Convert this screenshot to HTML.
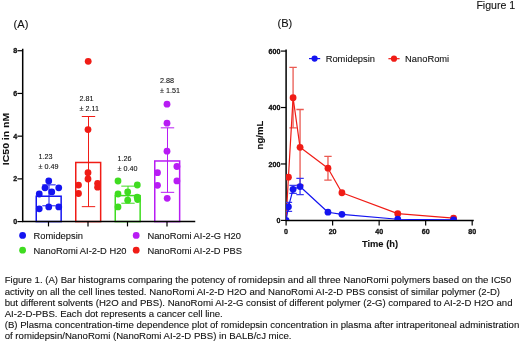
<!DOCTYPE html>
<html><head><meta charset="utf-8"><title>Figure 1</title>
<style>
html,body{margin:0;padding:0;background:#fff;}
body{width:520px;height:344px;overflow:hidden;font-family:"Liberation Sans",sans-serif;}
svg{display:block;will-change:transform;}
text{font-family:"Liberation Sans",sans-serif;fill:#111;stroke:#111;stroke-width:0.1px;}
.b{font-weight:bold;}
.tk{font-size:7.1px;stroke-width:0.3px;}
</style></head><body>
<svg width="520" height="344" viewBox="0 0 520 344">
<rect width="520" height="344" fill="#fff"/>

<text x="476.4" y="8.9" font-size="10.6">Figure 1</text>
<text x="13.6" y="27.5" font-size="11.1">(A)</text>
<text x="277.5" y="27.4" font-size="11.1">(B)</text>
<g id="chartA">
<rect x="36.25" y="196.23" width="24.9" height="25.37" fill="none" stroke="#1414f0" stroke-width="1.5"/>
<path d="M49 184.86V205.79M42.3 184.86H55.7M42.3 205.79H55.7" stroke="#1414f0" stroke-width="1" fill="none"/>
<rect x="75.75" y="162.48" width="24.9" height="59.12" fill="none" stroke="#f01c16" stroke-width="1.5"/>
<path d="M88.5 116.51V206.65M81.8 116.51H95.2M81.8 206.65H95.2" stroke="#f01c16" stroke-width="1" fill="none"/>
<rect x="115.25" y="195.59" width="24.9" height="26.01" fill="none" stroke="#3fdc20" stroke-width="1.5"/>
<path d="M128 186.14V203.23M121.3 186.14H134.7M121.3 203.23H134.7" stroke="#3fdc20" stroke-width="1" fill="none"/>
<rect x="154.75" y="160.98" width="24.9" height="60.62" fill="none" stroke="#b81cf4" stroke-width="1.5"/>
<path d="M167.5 127.83V192.34M160.8 127.83H174.2M160.8 192.34H174.2" stroke="#b81cf4" stroke-width="1" fill="none"/>
<circle cx="48.75" cy="181" r="3.4" fill="#1414f0"/>
<circle cx="45" cy="187.8" r="3.4" fill="#1414f0"/>
<circle cx="58.75" cy="187.8" r="3.4" fill="#1414f0"/>
<circle cx="51.75" cy="191.9" r="3.4" fill="#1414f0"/>
<circle cx="39.25" cy="194" r="3.4" fill="#1414f0"/>
<circle cx="39.25" cy="208.8" r="3.4" fill="#1414f0"/>
<circle cx="48.75" cy="206.9" r="3.4" fill="#1414f0"/>
<circle cx="58.75" cy="206.9" r="3.4" fill="#1414f0"/>
<circle cx="88.2" cy="61.3" r="3.4" fill="#f01c16"/>
<circle cx="88" cy="129.6" r="3.4" fill="#f01c16"/>
<circle cx="88" cy="172.7" r="3.4" fill="#f01c16"/>
<circle cx="88" cy="179" r="3.4" fill="#f01c16"/>
<circle cx="78.5" cy="185.1" r="3.4" fill="#f01c16"/>
<circle cx="97.6" cy="183.3" r="3.4" fill="#f01c16"/>
<circle cx="97.6" cy="187.2" r="3.4" fill="#f01c16"/>
<circle cx="78.5" cy="193.5" r="3.4" fill="#f01c16"/>
<circle cx="118" cy="181" r="3.4" fill="#3fdc20"/>
<circle cx="137.3" cy="185" r="3.4" fill="#3fdc20"/>
<circle cx="127.7" cy="191.9" r="3.4" fill="#3fdc20"/>
<circle cx="118" cy="194" r="3.4" fill="#3fdc20"/>
<circle cx="137.2" cy="197.2" r="3.4" fill="#3fdc20"/>
<circle cx="137.6" cy="199.6" r="3.4" fill="#3fdc20"/>
<circle cx="127.7" cy="200.2" r="3.4" fill="#3fdc20"/>
<circle cx="118" cy="206.9" r="3.4" fill="#3fdc20"/>
<circle cx="167" cy="104.2" r="3.4" fill="#b81cf4"/>
<circle cx="167" cy="123.2" r="3.4" fill="#b81cf4"/>
<circle cx="167" cy="151.2" r="3.4" fill="#b81cf4"/>
<circle cx="176.9" cy="166.5" r="3.4" fill="#b81cf4"/>
<circle cx="157.5" cy="172.7" r="3.4" fill="#b81cf4"/>
<circle cx="176.9" cy="180.9" r="3.4" fill="#b81cf4"/>
<circle cx="157.5" cy="185.3" r="3.4" fill="#b81cf4"/>
<circle cx="167.2" cy="198.3" r="3.4" fill="#b81cf4"/>
<path d="M22.7 49.6V221.6H194.5" stroke="#000" stroke-width="1.5" fill="none" stroke-linecap="square"/>
<path d="M17.4 221.60H22.7" stroke="#000" stroke-width="1.2"/>
<text class="b tk" x="17.1" y="224.20" text-anchor="end">0</text>
<path d="M17.4 178.88H22.7" stroke="#000" stroke-width="1.2"/>
<text class="b tk" x="17.1" y="181.48" text-anchor="end">2</text>
<path d="M17.4 136.16H22.7" stroke="#000" stroke-width="1.2"/>
<text class="b tk" x="17.1" y="138.76" text-anchor="end">4</text>
<path d="M17.4 93.44H22.7" stroke="#000" stroke-width="1.2"/>
<text class="b tk" x="17.1" y="96.04" text-anchor="end">6</text>
<path d="M17.4 50.72H22.7" stroke="#000" stroke-width="1.2"/>
<text class="b tk" x="17.1" y="53.32" text-anchor="end">8</text>
<path d="M48.5 221.6V226.4" stroke="#000" stroke-width="1.2"/>
<path d="M88.0 221.6V226.4" stroke="#000" stroke-width="1.2"/>
<path d="M127.5 221.6V226.4" stroke="#000" stroke-width="1.2"/>
<path d="M167.0 221.6V226.4" stroke="#000" stroke-width="1.2"/>
<text class="b" transform="translate(9.1,139) rotate(-90)" font-size="9.4" text-anchor="middle" textLength="52.3" lengthAdjust="spacingAndGlyphs">IC50 in nM</text>
<text x="38.5" y="158.5" font-size="7.2">1.23</text><text x="38.5" y="168.5" font-size="7.2">± 0.49</text>
<text x="79.5" y="100.5" font-size="7.2">2.81</text><text x="79.5" y="110.5" font-size="7.2">± 2.11</text>
<text x="117.5" y="160.5" font-size="7.2">1.26</text><text x="117.5" y="170.5" font-size="7.2">± 0.40</text>
<text x="160" y="83" font-size="7.2">2.88</text><text x="160" y="93" font-size="7.2">± 1.51</text>
<circle cx="22.6" cy="235.4" r="3.4" fill="#1414f0"/><text x="33.6" y="238.7" font-size="9.36">Romidepsin</text>
<circle cx="136.2" cy="235.4" r="3.4" fill="#b81cf4"/><text x="147.4" y="238.7" font-size="9.36">NanoRomi AI-2-G H20</text>
<circle cx="22.6" cy="250.2" r="3.4" fill="#3fdc20"/><text x="33.6" y="253.5" font-size="9.36">NanoRomi AI-2-D H20</text>
<circle cx="136.2" cy="250.2" r="3.4" fill="#f01c16"/><text x="147.4" y="253.5" font-size="9.36">NanoRomi AI-2-D PBS</text>
</g>
<g id="chartB">
<clipPath id="clipB"><rect x="286.0" y="40" width="200" height="179.95"/></clipPath>
<path d="M286.1 50.3V220.4H473" stroke="#000" stroke-width="1.5" fill="none" stroke-linecap="square"/>
<path d="M281 220.40H286.1" stroke="#000" stroke-width="1.2"/>
<text class="b tk" x="280.4" y="223.05" text-anchor="end">0</text>
<path d="M281 163.96H286.1" stroke="#000" stroke-width="1.2"/>
<text class="b tk" x="280.4" y="166.61" text-anchor="end">200</text>
<path d="M281 107.52H286.1" stroke="#000" stroke-width="1.2"/>
<text class="b tk" x="280.4" y="110.17" text-anchor="end">400</text>
<path d="M281 51.08H286.1" stroke="#000" stroke-width="1.2"/>
<text class="b tk" x="280.4" y="53.73" text-anchor="end">600</text>
<path d="M286.10 220.4V225.4" stroke="#000" stroke-width="1.2"/>
<text class="b tk" x="286.10" y="233.6" text-anchor="middle">0</text>
<path d="M332.62 220.4V225.4" stroke="#000" stroke-width="1.2"/>
<text class="b tk" x="332.62" y="233.6" text-anchor="middle">20</text>
<path d="M379.14 220.4V225.4" stroke="#000" stroke-width="1.2"/>
<text class="b tk" x="379.14" y="233.6" text-anchor="middle">40</text>
<path d="M425.66 220.4V225.4" stroke="#000" stroke-width="1.2"/>
<text class="b tk" x="425.66" y="233.6" text-anchor="middle">60</text>
<path d="M472.18 220.4V225.4" stroke="#000" stroke-width="1.2"/>
<text class="b tk" x="472.18" y="233.6" text-anchor="middle">80</text>
<text class="b" x="380" y="246.8" font-size="9.35" text-anchor="middle">Time (h)</text>
<text class="b" transform="translate(262.6,135) rotate(-90)" font-size="9.6" text-anchor="middle">ng/mL</text>
<g clip-path="url(#clipB)">
<path d="M293.08 67.45V127.84M289.38 67.45h7.4M289.38 127.84h7.4" stroke="#ea5a52" stroke-width="1.3" fill="none"/>
<path d="M300.06 109.50V185.12M296.36 109.50h7.4M296.36 185.12h7.4" stroke="#ea5a52" stroke-width="1.3" fill="none"/>
<path d="M327.97 156.34V180.05M324.27 156.34h7.4M324.27 180.05h7.4" stroke="#ea5a52" stroke-width="1.3" fill="none"/>
<polyline points="286.10,220.40 288.43,177.22 293.08,97.64 300.06,147.31 327.97,168.19 341.92,192.74 397.75,213.63 453.57,218.14" fill="none" stroke="#f01c16" stroke-width="1.2" stroke-linejoin="round"/>
<circle cx="288.43" cy="177.22" r="3.4" fill="#f01c16"/>
<circle cx="293.08" cy="97.64" r="3.4" fill="#f01c16"/>
<circle cx="300.06" cy="147.31" r="3.4" fill="#f01c16"/>
<circle cx="327.97" cy="168.19" r="3.4" fill="#f01c16"/>
<circle cx="341.92" cy="192.74" r="3.4" fill="#f01c16"/>
<circle cx="397.75" cy="213.63" r="3.4" fill="#f01c16"/>
<circle cx="453.57" cy="218.14" r="3.4" fill="#f01c16"/>
</g>
<g clip-path="url(#clipB)">
<path d="M288.43 202.34V211.37M284.73 202.34h7.4M284.73 211.37h7.4" stroke="#3a3af0" stroke-width="1.3" fill="none"/>
<path d="M293.08 185.41V193.31M289.38 185.41h7.4M289.38 193.31h7.4" stroke="#3a3af0" stroke-width="1.3" fill="none"/>
<path d="M300.06 178.35V194.72M296.36 178.35h7.4M296.36 194.72h7.4" stroke="#3a3af0" stroke-width="1.3" fill="none"/>
<polyline points="286.10,220.40 288.43,206.85 293.08,189.36 300.06,186.54 327.97,212.22 341.92,214.30 397.75,219.27 453.57,219.84" fill="none" stroke="#1414f0" stroke-width="1.2" stroke-linejoin="round"/>
<circle cx="286.10" cy="220.40" r="3.4" fill="#1414f0"/>
<circle cx="288.43" cy="206.85" r="3.4" fill="#1414f0"/>
<circle cx="293.08" cy="189.36" r="3.4" fill="#1414f0"/>
<circle cx="300.06" cy="186.54" r="3.4" fill="#1414f0"/>
<circle cx="327.97" cy="212.22" r="3.4" fill="#1414f0"/>
<circle cx="341.92" cy="214.30" r="3.4" fill="#1414f0"/>
<circle cx="397.75" cy="219.27" r="3.4" fill="#1414f0"/>
<circle cx="453.57" cy="219.84" r="3.4" fill="#1414f0"/>
</g>
<path d="M309 58.6h11.2" stroke="#1414f0" stroke-width="1.2"/><circle cx="314.6" cy="58.6" r="3.1" fill="#1414f0"/><text x="325.7" y="61.8" font-size="9.33">Romidepsin</text>
<path d="M388.4 58.7h11.2" stroke="#f01c16" stroke-width="1.2"/><circle cx="394" cy="58.7" r="3.1" fill="#f01c16"/><text x="405.1" y="61.8" font-size="9.33">NanoRomi</text>
</g>
<text x="4.7" y="283.4" font-size="9.605">Figure 1. (A) Bar histograms comparing the potency of romidepsin and all three NanoRomi polymers based on the IC50</text>
<text x="4.7" y="294.7" font-size="9.605">activity on all the cell lines tested. NanoRomi AI-2-D H2O and NanoRomi AI-2-D PBS consist of similar polymer (2-D)</text>
<text x="4.7" y="305.8" font-size="9.605">but different solvents (H2O and PBS). NanoRomi AI-2-G consist of different polymer (2-G) compared to AI-2-D H2O and</text>
<text x="4.7" y="316.8" font-size="9.605">AI-2-D-PBS. Each dot represents a cancer cell line.</text>
<text x="4.7" y="328.1" font-size="9.605">(B) Plasma concentration-time dependence plot of romidepsin concentration in plasma after intraperitoneal administration</text>
<text x="4.7" y="339.3" font-size="9.605">of romidepsin/NanoRomi (NanoRomi AI-2-D PBS) in BALB/cJ mice.</text>
</svg>
</body></html>
